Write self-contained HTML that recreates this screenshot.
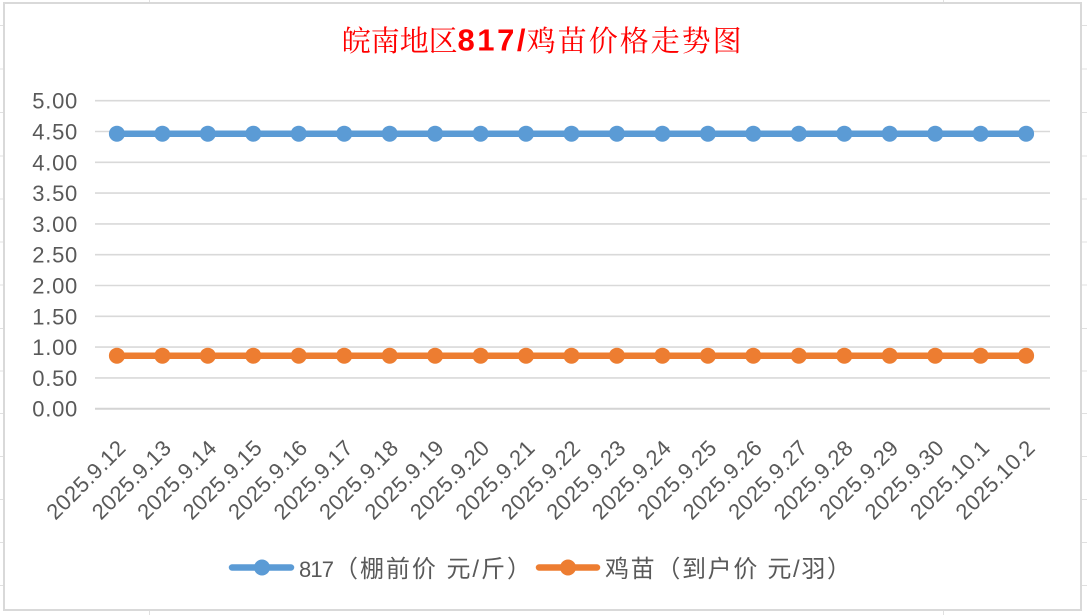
<!DOCTYPE html>
<html>
<head>
<meta charset="utf-8">
<style>
  html, body { margin: 0; padding: 0; background: #ffffff; }
  body { width: 1087px; height: 615px; overflow: hidden; }
  svg { display: block; }
  .yl { font-family: "Liberation Sans", sans-serif; font-size: 22px; fill: #595959; }
  .xl { font-family: "Liberation Sans", sans-serif; font-size: 22px; fill: #595959; }
  .lg { font-family: "Liberation Sans", "Noto Sans CJK SC", sans-serif; fill: #595959; }
  .tc { font-family: "Liberation Serif", "Noto Serif CJK SC", serif; font-size: 29px; fill: #ff0000; }
  .tl { font-family: "Liberation Sans", sans-serif; font-size: 31px; font-weight: bold; fill: #ff0000; }
</style>
</head>
<body>
<svg width="1087" height="615" viewBox="0 0 1087 615" xmlns="http://www.w3.org/2000/svg">
  <rect x="0" y="0" width="1087" height="615" fill="#ffffff"/>
  <g stroke="#e0e0e0" stroke-width="1">
    <line x1="0" y1="25.5" x2="1087" y2="25.5"/>
    <line x1="0" y1="69" x2="1087" y2="69"/>
    <line x1="0" y1="112.5" x2="1087" y2="112.5"/>
    <line x1="0" y1="156" x2="1087" y2="156"/>
    <line x1="0" y1="199" x2="1087" y2="199"/>
    <line x1="0" y1="242" x2="1087" y2="242"/>
    <line x1="0" y1="285" x2="1087" y2="285"/>
    <line x1="0" y1="328.5" x2="1087" y2="328.5"/>
    <line x1="0" y1="371" x2="1087" y2="371"/>
    <line x1="0" y1="413.5" x2="1087" y2="413.5"/>
    <line x1="0" y1="456.5" x2="1087" y2="456.5"/>
    <line x1="0" y1="499.5" x2="1087" y2="499.5"/>
    <line x1="0" y1="542.5" x2="1087" y2="542.5"/>
    <line x1="0" y1="585.5" x2="1087" y2="585.5"/>
    <line x1="149.5" y1="0" x2="149.5" y2="615"/>
    <line x1="943.5" y1="0" x2="943.5" y2="615"/>
  </g>

  <rect x="4" y="3" width="1077" height="607" fill="#ffffff" stroke="#d9d9d9" stroke-width="2"/>

  <text class="tc" x="341.7" y="51" textLength="116">皖南地区</text>
  <text class="tl" x="457.5" y="50.7" textLength="68">817/</text>
  <text class="tc" x="526.7" y="51" textLength="215">鸡苗价格走势图</text>

  <g stroke="#d9d9d9" stroke-width="1.6">
    <line x1="95" y1="100.7" x2="1050" y2="100.7"/>
    <line x1="95" y1="131.5" x2="1050" y2="131.5"/>
    <line x1="95" y1="162.3" x2="1050" y2="162.3"/>
    <line x1="95" y1="193.1" x2="1050" y2="193.1"/>
    <line x1="95" y1="223.9" x2="1050" y2="223.9"/>
    <line x1="95" y1="254.7" x2="1050" y2="254.7"/>
    <line x1="95" y1="285.5" x2="1050" y2="285.5"/>
    <line x1="95" y1="316.3" x2="1050" y2="316.3"/>
    <line x1="95" y1="347.1" x2="1050" y2="347.1"/>
    <line x1="95" y1="377.9" x2="1050" y2="377.9"/>
  </g>
  <line x1="95" y1="408.7" x2="1050" y2="408.7" stroke="#d4d4d4" stroke-width="2"/>

  <g class="yl" text-anchor="end">
    <text x="77.3" y="108.7" textLength="45">5.00</text>
    <text x="77.3" y="139.5" textLength="45">4.50</text>
    <text x="77.3" y="170.3" textLength="45">4.00</text>
    <text x="77.3" y="201.1" textLength="45">3.50</text>
    <text x="77.3" y="231.9" textLength="45">3.00</text>
    <text x="77.3" y="262.7" textLength="45">2.50</text>
    <text x="77.3" y="293.5" textLength="45">2.00</text>
    <text x="77.3" y="324.3" textLength="45">1.50</text>
    <text x="77.3" y="355.1" textLength="45">1.00</text>
    <text x="77.3" y="385.9" textLength="45">0.50</text>
    <text x="77.3" y="416.7" textLength="45">0.00</text>
  </g>

  <g class="xl" text-anchor="end">
    <text transform="translate(126.9,449.5) rotate(-45)" textLength="101">2025.9.12</text>
    <text transform="translate(172.4,449.5) rotate(-45)" textLength="101">2025.9.13</text>
    <text transform="translate(217.8,449.5) rotate(-45)" textLength="101">2025.9.14</text>
    <text transform="translate(263.3,449.5) rotate(-45)" textLength="101">2025.9.15</text>
    <text transform="translate(308.7,449.5) rotate(-45)" textLength="101">2025.9.16</text>
    <text transform="translate(354.2,449.5) rotate(-45)" textLength="101">2025.9.17</text>
    <text transform="translate(399.7,449.5) rotate(-45)" textLength="101">2025.9.18</text>
    <text transform="translate(445.1,449.5) rotate(-45)" textLength="101">2025.9.19</text>
    <text transform="translate(490.6,449.5) rotate(-45)" textLength="101">2025.9.20</text>
    <text transform="translate(536.0,449.5) rotate(-45)" textLength="101">2025.9.21</text>
    <text transform="translate(581.5,449.5) rotate(-45)" textLength="101">2025.9.22</text>
    <text transform="translate(626.9,449.5) rotate(-45)" textLength="101">2025.9.23</text>
    <text transform="translate(672.4,449.5) rotate(-45)" textLength="101">2025.9.24</text>
    <text transform="translate(717.9,449.5) rotate(-45)" textLength="101">2025.9.25</text>
    <text transform="translate(763.3,449.5) rotate(-45)" textLength="101">2025.9.26</text>
    <text transform="translate(808.8,449.5) rotate(-45)" textLength="101">2025.9.27</text>
    <text transform="translate(854.3,449.5) rotate(-45)" textLength="101">2025.9.28</text>
    <text transform="translate(899.7,449.5) rotate(-45)" textLength="101">2025.9.29</text>
    <text transform="translate(945.2,449.5) rotate(-45)" textLength="101">2025.9.30</text>
    <text transform="translate(990.6,449.5) rotate(-45)" textLength="101">2025.10.1</text>
    <text transform="translate(1036.1,449.5) rotate(-45)" textLength="101">2025.10.2</text>
  </g>

  <line x1="116.9" y1="133.7" x2="1026.1" y2="133.7" stroke="#5b9bd5" stroke-width="6.5" stroke-linecap="round"/>
  <g fill="#5b9bd5">
    <circle cx="116.9" cy="133.7" r="8"/><circle cx="162.4" cy="133.7" r="8"/><circle cx="207.8" cy="133.7" r="8"/>
    <circle cx="253.3" cy="133.7" r="8"/><circle cx="298.7" cy="133.7" r="8"/><circle cx="344.2" cy="133.7" r="8"/>
    <circle cx="389.7" cy="133.7" r="8"/><circle cx="435.1" cy="133.7" r="8"/><circle cx="480.6" cy="133.7" r="8"/>
    <circle cx="526.0" cy="133.7" r="8"/><circle cx="571.5" cy="133.7" r="8"/><circle cx="616.9" cy="133.7" r="8"/>
    <circle cx="662.4" cy="133.7" r="8"/><circle cx="707.9" cy="133.7" r="8"/><circle cx="753.3" cy="133.7" r="8"/>
    <circle cx="798.8" cy="133.7" r="8"/><circle cx="844.3" cy="133.7" r="8"/><circle cx="889.7" cy="133.7" r="8"/>
    <circle cx="935.2" cy="133.7" r="8"/><circle cx="980.6" cy="133.7" r="8"/><circle cx="1026.1" cy="133.7" r="8"/>
  </g>

  <line x1="116.9" y1="355.7" x2="1026.1" y2="355.7" stroke="#ed7d31" stroke-width="6.5" stroke-linecap="round"/>
  <g fill="#ed7d31">
    <circle cx="116.9" cy="355.7" r="8"/><circle cx="162.4" cy="355.7" r="8"/><circle cx="207.8" cy="355.7" r="8"/>
    <circle cx="253.3" cy="355.7" r="8"/><circle cx="298.7" cy="355.7" r="8"/><circle cx="344.2" cy="355.7" r="8"/>
    <circle cx="389.7" cy="355.7" r="8"/><circle cx="435.1" cy="355.7" r="8"/><circle cx="480.6" cy="355.7" r="8"/>
    <circle cx="526.0" cy="355.7" r="8"/><circle cx="571.5" cy="355.7" r="8"/><circle cx="616.9" cy="355.7" r="8"/>
    <circle cx="662.4" cy="355.7" r="8"/><circle cx="707.9" cy="355.7" r="8"/><circle cx="753.3" cy="355.7" r="8"/>
    <circle cx="798.8" cy="355.7" r="8"/><circle cx="844.3" cy="355.7" r="8"/><circle cx="889.7" cy="355.7" r="8"/>
    <circle cx="935.2" cy="355.7" r="8"/><circle cx="980.6" cy="355.7" r="8"/><circle cx="1026.1" cy="355.7" r="8"/>
  </g>

  <line x1="232" y1="567.5" x2="291" y2="567.5" stroke="#5b9bd5" stroke-width="6.5" stroke-linecap="round"/>
  <circle cx="262" cy="567.5" r="8" fill="#5b9bd5"/>
  <text class="lg" x="299" y="577" font-size="22" textLength="35">817</text>
  <text class="lg" x="334" y="577" font-size="24" textLength="197">（棚前价 元/斤）</text>

  <line x1="539" y1="567.5" x2="597" y2="567.5" stroke="#ed7d31" stroke-width="6.5" stroke-linecap="round"/>
  <circle cx="568" cy="567.5" r="8" fill="#ed7d31"/>
  <text class="lg" x="605" y="577" font-size="24" textLength="246">鸡苗（到户价 元/羽）</text>
</svg>
</body>
</html>
